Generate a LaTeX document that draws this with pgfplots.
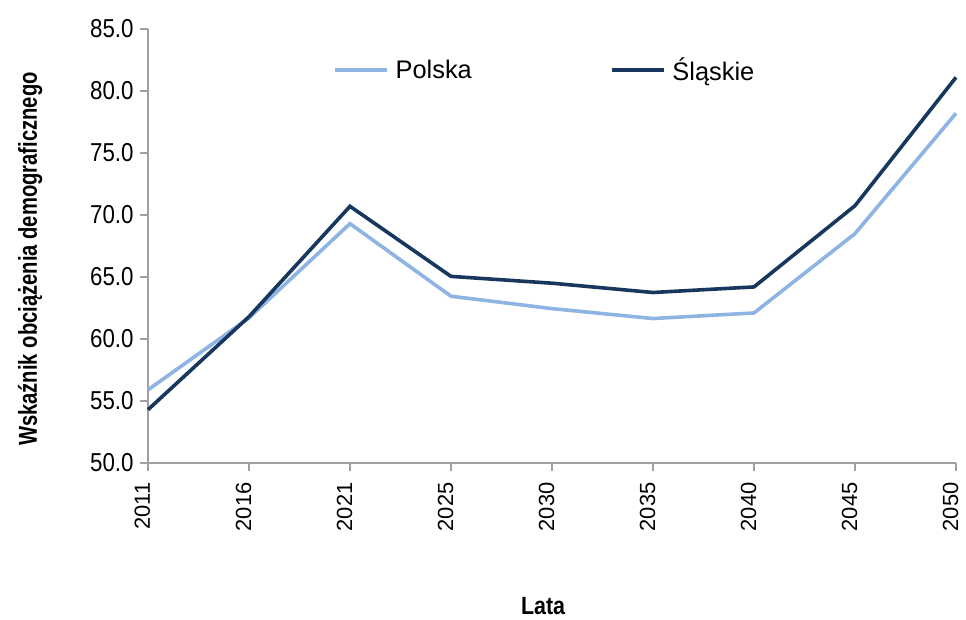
\documentclass[border=0pt]{standalone}
\usepackage{fontspec}
\setmainfont{Liberation Sans}
\newfontfamily\narrow[FakeStretch=0.86]{Liberation Sans}
\newfontfamily\narrowlab[FakeStretch=0.78]{Liberation Sans}
\usepackage{pgfplots}
\pgfplotsset{compat=1.18}
\definecolor{polska}{RGB}{141,180,226}
\definecolor{slaskie}{RGB}{23,55,94}
\definecolor{axgray}{RGB}{160,160,160}
\begin{document}
\begin{tikzpicture}
\begin{axis}[
  scale only axis,
  width=808bp, height=434bp,
  xmin=0, xmax=8, ymin=50, ymax=85,
  clip=false,
  axis lines=left,
  axis line style={draw=axgray, line width=1.2bp, -},
  every tick/.style={draw=axgray, line width=1.2bp},
  xtick={0,1,2,3,4,5,6,7,8},
  xticklabels={2011,2016,2021,2025,2030,2035,2040,2045,2050},
  ytick={50,55,60,65,70,75,80,85},
  tick align=outside,
  major tick length=8bp,
  /pgf/number format/assume math mode=true,
  /pgf/number format/.cd, fixed, fixed zerofill, precision=1, /pgfplots/.cd,
  yticklabel style={font=\narrow\fontsize{26}{30}\selectfont, text=black, xshift=-3bp},
  xticklabel style={font=\fontsize{22}{26}\selectfont, text=black, rotate=90, anchor=base east, yshift=-2bp, xshift=-8bp},
  ylabel={Wskaźnik obciążenia demograficznego},
  ylabel style={font=\narrowlab\bfseries\fontsize{26}{30}\selectfont, at={(rel axis cs:-0.1374,0.47)}, anchor=base},
  xlabel={Lata},
  xlabel style={font=\narrow\bfseries\fontsize{25}{30}\selectfont, at={(rel axis cs:0.489,-0.3502)}, anchor=base},
  legend columns=2,
  legend style={draw=none, fill=none, at={(rel axis cs:0.225,0.9055)}, anchor=west,
    font=\fontsize{25.5}{30}\selectfont,
    /tikz/every odd column/.append style={column sep=5bp},
    /tikz/every even column/.append style={column sep=136bp}},
  legend image code/.code={\draw[#1] (0bp,0bp) -- (52bp,0bp);},
]
\addplot[color=polska, line width=3.6bp] coordinates {
  (0,55.9) (1,61.7) (2,69.3) (3,63.45) (4,62.45) (5,61.65) (6,62.1) (7,68.5) (8,78.2)
};
\addlegendentry{Polska}
\addplot[color=slaskie, line width=3.6bp] coordinates {
  (0,54.3) (1,61.8) (2,70.7) (3,65.05) (4,64.5) (5,63.75) (6,64.2) (7,70.75) (8,81.1)
};
\addlegendentry{Śląskie}
\coordinate (SW) at (rel axis cs:0,0);
\coordinate (NE) at (rel axis cs:1,1);
\end{axis}
\pgfresetboundingbox
\path ([shift={(-148bp,-156bp)}]SW) rectangle ([shift={(10bp,29bp)}]NE);
\end{tikzpicture}
\end{document}
